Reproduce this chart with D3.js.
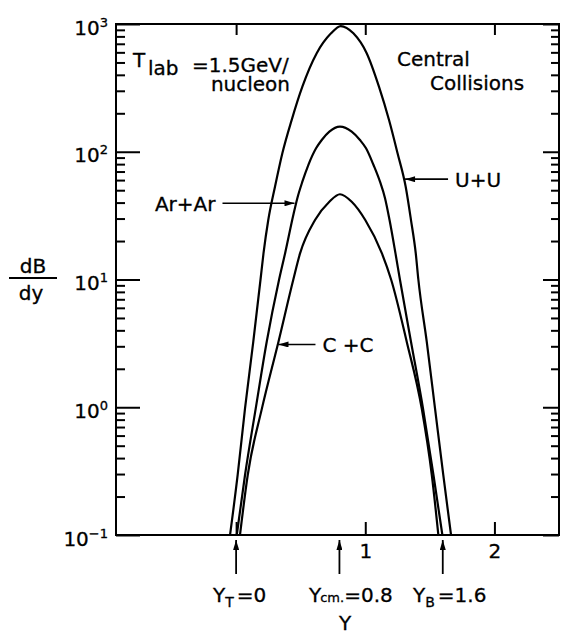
<!DOCTYPE html>
<html>
<head>
<meta charset="utf-8">
<script src="https://cdn.jsdelivr.net/npm/d3@7"></script>
<style>
  body { margin: 0; background: #fff; }
  text { font-family: "DejaVu Sans", sans-serif; fill: #000; stroke: #000; stroke-width: 0.3px; }
</style>
</head>
<body>
<div id="chart"></div>
<script>
// rapidity (x) and dB/dy (y), one pair of arrays per system
const uuRap = [-0.047, 0.012, 0.069, 0.133, 0.189, 0.212, 0.249, 0.301, 0.358, 0.430, 0.513, 0.624, 0.735, 0.810,
               0.908, 1.011, 1.106, 1.184, 1.250, 1.313, 1.354, 1.391, 1.411, 1.476, 1.540, 1.604, 1.664];
const uuDBdy = [0.1, 0.295, 0.98, 3.26, 10, 16, 29.2, 53.2, 97.3, 177, 323, 590, 845, 964,
                845, 590, 323, 177, 97.3, 53.2, 29.2, 16, 10, 3.26, 0.98, 0.295, 0.1];

const arRap = [0.005, 0.069, 0.152, 0.237, 0.332, 0.379, 0.443, 0.474, 0.513, 0.559, 0.619, 0.663, 0.722, 0.804,
               0.895, 0.959, 1.006, 1.064, 1.114, 1.153, 1.188, 1.234, 1.269, 1.354, 1.447, 1.528, 1.597];
const arDBdy = [0.1, 0.295, 0.98, 3.26, 9.9, 16, 32, 43.3, 58.3, 78.7, 106.4, 123.6, 143.6, 157,
                143.6, 123.6, 106.4, 78.7, 58.3, 43.3, 29.2, 16, 9.9, 3.26, 0.98, 0.295, 0.1];

const ccRap = [0.030, 0.090, 0.200, 0.328, 0.443, 0.495, 0.611, 0.722, 0.804,
               0.895, 1.000, 1.129, 1.200, 1.321, 1.437, 1.515, 1.566];
const ccDBdy = [0.1, 0.295, 0.98, 3.26, 10, 16, 29.2, 40.6, 46.5,
                40.6, 29.2, 16, 10, 3.26, 0.98, 0.295, 0.1];

// curve labels and where their arrows point (data coords)
const curveNames = ["U+U", "Ar+Ar", "C +C"];
const labelTipRap = [1.308, 0.452, 0.328];
const labelTipDBdy = [61, 39.5, 3.1];

// marked rapidities below the axis
const markRap = [0, 0.8, 1.6];

const xTicks = [0, 1, 2];
const decades = [0.1, 1, 10, 100, 1000];

const width = 567, height = 635;
const svg = d3.select("#chart").append("svg")
    .attr("width", width)
    .attr("height", height);

const x = d3.scaleLinear().domain([-0.93, 2.5]).range([116, 559]);
const y = d3.scaleLog().domain([0.1, 1000]).range([535, 24]);

// arrow head
svg.append("defs").append("marker")
    .attr("id", "head")
    .attr("viewBox", "0 0 10 6")
    .attr("refX", 10).attr("refY", 3)
    .attr("markerWidth", 11).attr("markerHeight", 6)
    .attr("markerUnits", "userSpaceOnUse")
    .attr("orient", "auto")
  .append("path")
    .attr("d", "M0,0L10,3L0,6Z")
    .attr("fill", "#000");

svg.append("clipPath").attr("id", "plot")
  .append("rect")
    .attr("x", 116).attr("y", 24)
    .attr("width", 443).attr("height", 511);

// all minor + major log ticks
const logTicks = [];
decades.forEach(d => {
    for (let k = 1; k < 10; k++) {
        if (d * k <= 1000) logTicks.push(d * k);
    }
});
const isMajor = v => decades.some(d => Math.abs(v - d) < 1e-9);

// left axis, ticks inward
const leftAxis = svg.append("g")
    .attr("transform", "translate(116,0)")
    .call(d3.axisLeft(y).tickValues(logTicks).tickSizeInner(-24).tickSizeOuter(0).tickPadding(8).tickFormat(""));
leftAxis.selectAll(".tick line")
    .attr("x2", d => isMajor(d) ? 24 : 9)
    .attr("stroke-width", 2);
leftAxis.select(".domain").remove();

// exponent labels
leftAxis.selectAll(".tick")
    .filter(d => isMajor(d))
    .select("text")
    .attr("font-size", 20)
    .attr("dy", "0.5em")
    .each(function(d) {
        const t = d3.select(this);
        t.text(null);
        t.append("tspan").text("10");
        t.append("tspan")
            .attr("font-size", 13)
            .attr("dy", -8)
            .text(String(Math.round(Math.log10(d))).replace("-", "\u2212"));
    });

// right axis, ticks inward, no labels
const rightAxis = svg.append("g")
    .attr("transform", "translate(559,0)")
    .call(d3.axisRight(y).tickValues(logTicks).tickSizeOuter(0).tickFormat(""));
rightAxis.selectAll(".tick line")
    .attr("x2", d => isMajor(d) ? -16 : -8)
    .attr("stroke-width", 2);
rightAxis.select(".domain").remove();

// top and bottom axes
const topAxis = svg.append("g")
    .attr("transform", "translate(0,24)")
    .call(d3.axisTop(x).tickValues(xTicks).tickSizeInner(-11).tickSizeOuter(0).tickFormat(""));
topAxis.selectAll(".tick line").attr("stroke-width", 2);
topAxis.select(".domain").remove();

const bottomAxis = svg.append("g")
    .attr("transform", "translate(0,535)")
    .call(d3.axisBottom(x).tickValues(xTicks).tickSizeInner(-13).tickSizeOuter(0).tickPadding(9)
        .tickFormat(d => d === 0 ? "" : d));
bottomAxis.selectAll(".tick line").attr("stroke-width", 2);
bottomAxis.selectAll("text").attr("font-size", 20);
bottomAxis.select(".domain").remove();

// frame
svg.append("rect")
    .attr("x", 116).attr("y", 24)
    .attr("width", 443).attr("height", 511)
    .attr("fill", "none")
    .attr("stroke", "#000")
    .attr("stroke-width", 2);

// curves
const series = [
    d3.zip(uuRap, uuDBdy),
    d3.zip(arRap, arDBdy),
    d3.zip(ccRap, ccDBdy)
];
const line = d3.line()
    .x(d => x(d[0]))
    .y(d => y(d[1]))
    .curve(d3.curveMonotoneX);

svg.append("g").attr("clip-path", "url(#plot)")
  .selectAll("path")
  .data(series)
  .join("path")
    .attr("d", line)
    .attr("fill", "none")
    .attr("stroke", "#000")
    .attr("stroke-width", 2.2);

// curve labels with arrows
const labelSide = [1, -1, 1];   // 1: label to the right of the tip
const arrowLen = [43, 72, 37];
curveNames.forEach((name, i) => {
    const tx = x(labelTipRap[i]), ty = y(labelTipDBdy[i]);
    const sx = tx + labelSide[i] * arrowLen[i];
    svg.append("line")
        .attr("x1", sx).attr("y1", ty)
        .attr("x2", tx).attr("y2", ty)
        .attr("stroke", "#000").attr("stroke-width", 1.6)
        .attr("marker-end", "url(#head)");
    svg.append("text")
        .attr("x", sx + labelSide[i] * 7)
        .attr("y", ty + 8)
        .attr("text-anchor", labelSide[i] > 0 ? "start" : "end")
        .attr("font-size", 20)
        .text(name);
});

// arrows under the axis
markRap.forEach(r => {
    svg.append("line")
        .attr("x1", x(r)).attr("y1", 574)
        .attr("x2", x(r)).attr("y2", 540)
        .attr("stroke", "#000").attr("stroke-width", 1.8)
        .attr("marker-end", "url(#head)");
});

// Y_T = 0
const yt = svg.append("text").attr("x", 213).attr("y", 602).attr("font-size", 20);
yt.append("tspan").text("Y");
yt.append("tspan").attr("font-size", 14).attr("dy", 5).text("T");
yt.append("tspan").attr("dy", -5).attr("dx", 3).text("=0");

// Y_c.m. = 0.8
const ycm = svg.append("text").attr("x", 309).attr("y", 602).attr("font-size", 20);
ycm.append("tspan").text("Y");
ycm.append("tspan").attr("font-size", 13).attr("dx", -1).text("cm.");
ycm.append("tspan").text("=0.8");

// Y_B = 1.6
const yb = svg.append("text").attr("x", 413).attr("y", 602).attr("font-size", 20);
yb.append("tspan").text("Y");
yb.append("tspan").attr("font-size", 14).attr("dy", 5).text("B");
yb.append("tspan").attr("dy", -5).attr("dx", 3).text("=1.6");

// axis titles
svg.append("text")
    .attr("x", 345).attr("y", 630)
    .attr("text-anchor", "middle")
    .attr("font-size", 20)
    .text("Y");

svg.append("text").attr("x", 33).attr("y", 273).attr("text-anchor", "middle").attr("font-size", 20).text("dB");
svg.append("line").attr("x1", 9).attr("x2", 57).attr("y1", 278).attr("y2", 278)
    .attr("stroke", "#000").attr("stroke-width", 2);
svg.append("text").attr("x", 31).attr("y", 300).attr("text-anchor", "middle").attr("font-size", 20).text("dy");

// header notes
svg.append("text").attr("x", 133).attr("y", 67).attr("font-size", 20).text("T");
svg.append("text").attr("x", 148).attr("y", 75).attr("font-size", 20).text("lab");
svg.append("text").attr("x", 192).attr("y", 72).attr("font-size", 20).text("=1.5GeV/");
svg.append("text").attr("x", 290).attr("y", 91).attr("text-anchor", "end").attr("font-size", 20).text("nucleon");
svg.append("text").attr("x", 397).attr("y", 66).attr("font-size", 20).text("Central");
svg.append("text").attr("x", 430).attr("y", 90).attr("font-size", 20).text("Collisions");
</script>
</body>
</html>
